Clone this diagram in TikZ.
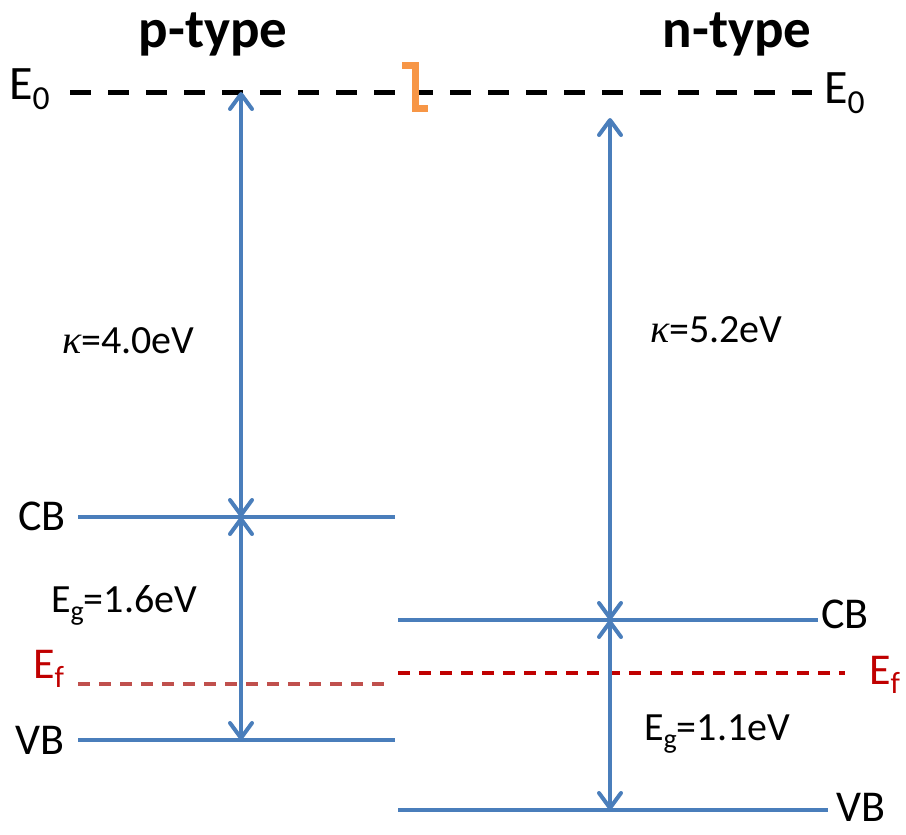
\documentclass[tikz,border=0pt]{standalone}
\usepackage{fontspec}
\setmainfont{Carlito}
\newfontfamily\kfont{Liberation Serif}
\usetikzlibrary{arrows.meta}
\definecolor{lvl}{HTML}{4A7EBB}
\definecolor{efl}{HTML}{C0504D}
\definecolor{efr}{HTML}{C00000}
\definecolor{brk}{HTML}{F79646}
\newcommand{\lowsub}[1]{\raisebox{-0.22em}{\fontsize{0.7\dimexpr\fontdimen6\font\relax}{1em}\selectfont #1}}
\newcommand{\kap}{{\kfont\itshape κ}}
\tikzset{
  level/.style={draw=lvl,line width=4pt},
  vac/.style={draw=black,line width=5pt,dash pattern=on 21pt off 17pt},
  fermiL/.style={draw=efl,line width=4pt,dash pattern=on 12pt off 9pt},
  fermiR/.style={draw=efr,line width=4pt,dash pattern=on 12pt off 9pt},
  dbl/.style={draw=lvl,line width=4pt,{Straight Barb[length=15pt,width=22pt,line cap=round,line join=round]}-{Straight Barb[length=15pt,width=22pt,line cap=round,line join=round]}},
  lbl/.style={inner sep=0pt,font=\fontsize{40}{44}\selectfont},
  band/.style={inner sep=0pt,font=\fontsize{44}{48}\selectfont},
  ttl/.style={inner sep=0pt,font=\fontsize{55}{60}\selectfont\bfseries},
  elbl/.style={inner sep=0pt,font=\fontsize{48}{52}\selectfont}
}
\begin{document}
\begin{tikzpicture}[x=1pt,y=-1pt]
\useasboundingbox (0,0) rectangle (906,835);
% coordinates
\coordinate (vL) at (70,92);
\coordinate (vR) at (812,92);
\coordinate (aLt) at (241,92);
\coordinate (aLm) at (241,517);
\coordinate (aLb) at (241,740);
\coordinate (aRt) at (610,118);
\coordinate (aRm) at (610,620);
\coordinate (aRb) at (610,810);
\coordinate (cbL1) at (78,517);
\coordinate (cbL2) at (395,517);
\coordinate (vbL1) at (78,740);
\coordinate (vbL2) at (395,740);
\coordinate (efL1) at (78,684);
\coordinate (efL2) at (392,684);
\coordinate (cbR1) at (398,620);
\coordinate (cbR2) at (818,620);
\coordinate (vbR1) at (398,810);
\coordinate (vbR2) at (828,810);
\coordinate (efR1) at (398,673);
\coordinate (efR2) at (845,673);
\coordinate (bk1) at (402,65);
\coordinate (bk2) at (415,65);
\coordinate (bk3) at (415,108);
\coordinate (bk4) at (428,108);
% lines
\draw[vac] (vL) -- (vR);
\draw[brk,line width=7pt] (bk1) -- (bk2) -- (bk3) -- (bk4);
\draw[level] (cbL1) -- (cbL2);
\draw[level] (vbL1) -- (vbL2);
\draw[fermiL] (efL1) -- (efL2);
\draw[level] (cbR1) -- (cbR2);
\draw[level] (vbR1) -- (vbR2);
\draw[fermiR] (efR1) -- (efR2);
\draw[dbl] (aLt) -- (aLm);
\draw[dbl] (aLm) -- (aLb);
\draw[dbl] (aRt) -- (aRm);
\draw[dbl] (aRm) -- (aRb);
% labels
\node[ttl,anchor=base] (pt) at (213,47) {p-type};
\node[ttl,anchor=base] (nt) at (737,47) {n-type};
\node[elbl,anchor=base west] (e0l) at (9,99) {E\lowsub{0}};
\node[elbl,anchor=base west] (e0r) at (824,103) {E\lowsub{0}};
\node[lbl,anchor=base west] (kl) at (62,353) {\kap=4.0eV};
\node[lbl,anchor=base west] (kr) at (650,342) {\kap=5.2eV};
\node[band,anchor=base west] (cbl) at (18,530) {CB};
\node[lbl,anchor=base west] (egl) at (51,612) {E\lowsub{g}=1.6eV};
\node[band,anchor=base west,text=efr] (efl) at (33,678) {E\lowsub{f}};
\node[band,anchor=base west] (vbl) at (15,754) {VB};
\node[band,anchor=base west] (cbr) at (821,628) {CB};
\node[band,anchor=base west,text=efr] (efr) at (869,684) {E\lowsub{f}};
\node[lbl,anchor=base west] (egr) at (644,740) {E\lowsub{g}=1.1eV};
\node[band,anchor=base west] (vbr) at (836,821) {VB};
\end{tikzpicture}
\end{document}
